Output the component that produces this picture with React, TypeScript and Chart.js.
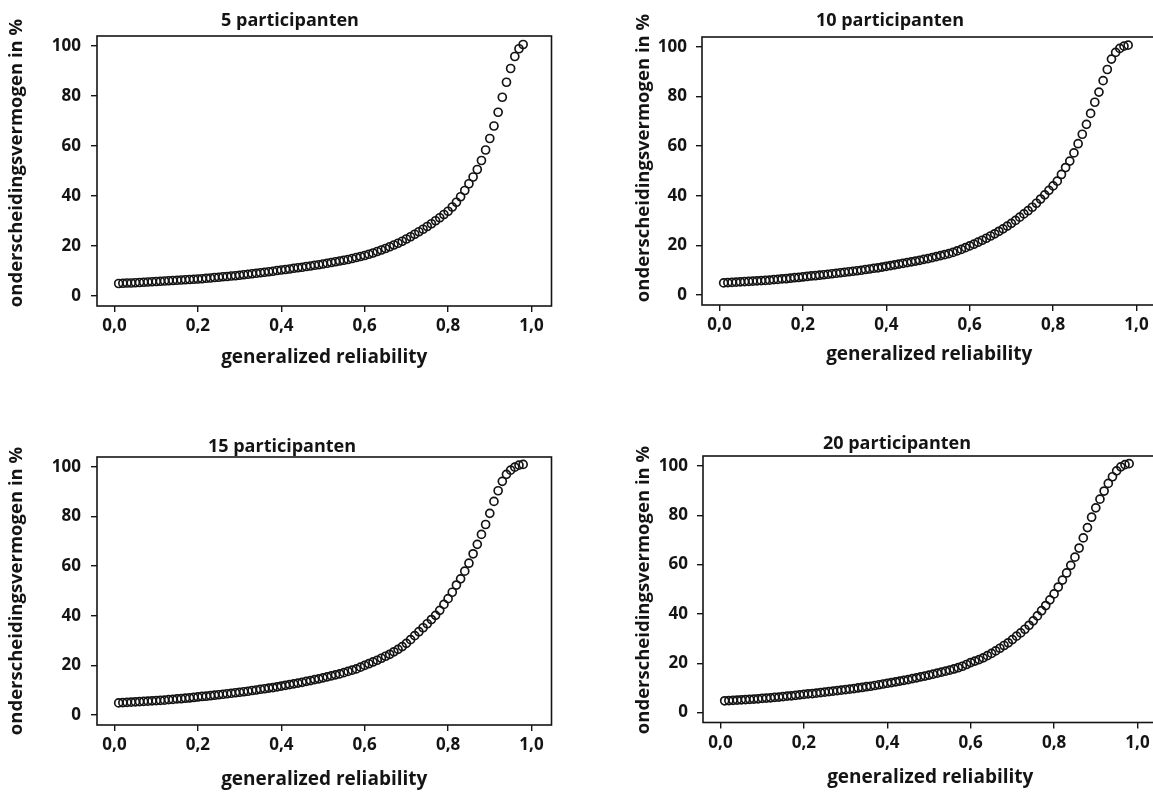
import React, { useEffect, useRef } from 'react';
import { Chart, registerables } from 'chart.js';

Chart.register(...registerables);

// ---------- data ----------
const reliability = [
  0.01, 0.02, 0.03, 0.04, 0.05, 0.06, 0.07, 0.08, 0.09, 0.1,
  0.11, 0.12, 0.13, 0.14, 0.15, 0.16, 0.17, 0.18, 0.19, 0.2,
  0.21, 0.22, 0.23, 0.24, 0.25, 0.26, 0.27, 0.28, 0.29, 0.3,
  0.31, 0.32, 0.33, 0.34, 0.35, 0.36, 0.37, 0.38, 0.39, 0.4,
  0.41, 0.42, 0.43, 0.44, 0.45, 0.46, 0.47, 0.48, 0.49, 0.5,
  0.51, 0.52, 0.53, 0.54, 0.55, 0.56, 0.57, 0.58, 0.59, 0.6,
  0.61, 0.62, 0.63, 0.64, 0.65, 0.66, 0.67, 0.68, 0.69, 0.7,
  0.71, 0.72, 0.73, 0.74, 0.75, 0.76, 0.77, 0.78, 0.79, 0.8,
  0.81, 0.82, 0.83, 0.84, 0.85, 0.86, 0.87, 0.88, 0.89, 0.9,
  0.91, 0.92, 0.93, 0.94, 0.95, 0.96, 0.97, 0.98,
];

const power5 = [
  5.0, 5.1, 5.2, 5.2, 5.3, 5.4, 5.5, 5.6, 5.7, 5.8,
  5.9, 6.0, 6.1, 6.2, 6.3, 6.4, 6.5, 6.6, 6.7, 6.8,
  6.9, 7.1, 7.2, 7.4, 7.5, 7.7, 7.8, 8.0, 8.1, 8.3,
  8.5, 8.7, 8.9, 9.1, 9.3, 9.5, 9.7, 9.9, 10.2, 10.4,
  10.6, 10.8, 11.1, 11.3, 11.5, 11.8, 12.0, 12.3, 12.5, 12.8,
  13.1, 13.4, 13.7, 14.0, 14.3, 14.6, 15.0, 15.4, 15.8, 16.2,
  16.7, 17.2, 17.8, 18.4, 19.0, 19.7, 20.4, 21.1, 21.9, 22.8,
  23.7, 24.7, 25.7, 26.7, 27.8, 28.9, 30.1, 31.3, 32.6, 33.9,
  35.6, 37.5, 39.7, 42.2, 44.9, 47.6, 50.6, 54.2, 58.4, 63.0,
  68.0, 73.5, 79.5, 85.5, 91.0, 95.8, 98.9, 100.6,
];

const power10 = [
  4.9, 5.0, 5.1, 5.2, 5.3, 5.4, 5.5, 5.6, 5.7, 5.8,
  5.9, 6.0, 6.2, 6.3, 6.5, 6.6, 6.8, 7.0, 7.1, 7.3,
  7.5, 7.7, 7.8, 8.0, 8.2, 8.4, 8.6, 8.8, 9.0, 9.2,
  9.4, 9.6, 9.8, 10.0, 10.3, 10.5, 10.8, 11.0, 11.3, 11.6,
  11.9, 12.2, 12.5, 12.8, 13.1, 13.4, 13.7, 14.0, 14.4, 14.7,
  15.1, 15.5, 15.9, 16.3, 16.7, 17.2, 17.8, 18.4, 19.1, 19.8,
  20.5, 21.3, 22.1, 22.9, 23.8, 24.7, 25.7, 26.7, 27.8, 28.9,
  30.1, 31.4, 32.7, 34.0, 35.4, 37.0, 38.7, 40.4, 42.2, 44.0,
  45.9, 48.6, 51.4, 54.0, 57.3, 61.0, 64.8, 68.8, 73.2, 77.7,
  81.8, 86.4, 90.9, 95.1, 97.8, 99.4, 100.3, 100.7,
];

const power15 = [
  4.9, 5.0, 5.1, 5.2, 5.3, 5.4, 5.5, 5.6, 5.7, 5.8,
  5.9, 6.0, 6.2, 6.3, 6.5, 6.6, 6.8, 6.9, 7.1, 7.3,
  7.5, 7.6, 7.8, 8.0, 8.2, 8.4, 8.6, 8.8, 9.0, 9.2,
  9.4, 9.6, 9.9, 10.1, 10.4, 10.6, 10.9, 11.1, 11.4, 11.7,
  12.0, 12.3, 12.6, 12.9, 13.2, 13.6, 13.9, 14.3, 14.6, 15.0,
  15.4, 15.8, 16.2, 16.6, 17.1, 17.6, 18.1, 18.6, 19.3, 20.0,
  20.7, 21.4, 22.1, 22.9, 23.7, 24.5, 25.5, 26.5, 27.6, 28.9,
  30.4, 32.0, 33.6, 35.2, 36.8, 38.5, 40.2, 42.2, 44.6, 46.9,
  49.5, 52.4, 54.9, 58.0, 61.2, 65.0, 68.8, 72.8, 76.8, 81.3,
  86.1, 90.4, 94.2, 97.0, 98.7, 99.9, 100.7, 101.0,
];

const power20 = [
  4.8, 4.9, 5.0, 5.1, 5.2, 5.3, 5.4, 5.5, 5.6, 5.8,
  5.9, 6.0, 6.2, 6.3, 6.5, 6.7, 6.8, 7.0, 7.2, 7.4,
  7.6, 7.7, 7.9, 8.1, 8.3, 8.5, 8.7, 8.9, 9.1, 9.3,
  9.5, 9.7, 10.0, 10.2, 10.5, 10.7, 11.0, 11.3, 11.6, 11.9,
  12.2, 12.5, 12.8, 13.1, 13.4, 13.8, 14.1, 14.5, 14.8, 15.2,
  15.6, 16.0, 16.4, 16.8, 17.2, 17.7, 18.2, 18.8, 19.5, 20.3,
  20.9, 21.5, 22.2, 23.1, 24.0, 25.0, 26.1, 27.2, 28.3, 29.6,
  31.0, 32.3, 33.8, 35.4, 37.2, 39.2, 41.3, 43.4, 45.7, 48.1,
  50.9, 53.7, 56.6, 59.7, 63.0, 66.7, 70.8, 75.0, 79.2, 83.0,
  86.5, 89.8, 92.9, 95.6, 98.0, 99.6, 100.5, 100.9,
];

const panelTitles = ['5 participanten', '10 participanten', '15 participanten', '20 participanten'];
const xTickValues = [0, 0.2, 0.4, 0.6, 0.8, 1.0];
const xTickLabels = ['0,0', '0,2', '0,4', '0,6', '0,8', '1,0'];
const yTickValues = [0, 20, 40, 60, 80, 100];
const yTickLabels = ['0', '20', '40', '60', '80', '100'];
const xAxisLabel = 'generalized reliability';
const yAxisLabel = 'onderscheidingsvermogen in %';

// ---------- layout (positions / sizes only) ----------
const FONT = "'Open Sans', 'DejaVu Sans', sans-serif";
const INK = '#141414';
const CW = 576;
const CH = 396;
const PLOT_LEFT = 97;
const PLOT_TOP = 36;
const PLOT_W = 454.5;
const X_SCALE_H = 66;
const TITLE_SIZE = 18;
const XLAB_SIZE = 19;
const YLAB_SIZE = 18.5;
const TICK_SIZE = 17;

const panels = [
  { series: power5, title: panelTitles[0], left: 0, top: 0, plotH: 270, titleX: 290, titleY: 21, yLabX: 16.5, yLabY: 163, xGap: 52, yPad: 10 },
  { series: power10, title: panelTitles[1], left: 605, top: 1, plotH: 268, titleX: 285, titleY: 20, yLabX: 39, yLabY: 157, xGap: 50, yPad: 9 },
  { series: power15, title: panelTitles[2], left: 0, top: 421, plotH: 268, titleX: 282, titleY: 26, yLabX: 16.5, yLabY: 170, xGap: 55, yPad: 10 },
  { series: power20, title: panelTitles[3], left: 606, top: 420, plotH: 266.5, titleX: 291, titleY: 24, yLabX: 38, yLabY: 170, xGap: 55, yPad: 9 },
];

const panelTextPlugin = {
  id: 'panelText',
  afterDraw(chart: any, _args: any, opts: any) {
    const { ctx, chartArea } = chart;
    ctx.save();
    ctx.strokeStyle = INK;
    ctx.lineWidth = 1.6;
    ctx.strokeRect(chartArea.left, chartArea.top, chartArea.right - chartArea.left, chartArea.bottom - chartArea.top);
    ctx.fillStyle = INK;
    ctx.textAlign = 'center';
    ctx.textBaseline = 'middle';
    ctx.font = `700 ${TITLE_SIZE}px ${FONT}`;
    ctx.fillText(opts.title, opts.titleX, opts.titleY);
    ctx.translate(opts.yLabX, opts.yLabY);
    ctx.rotate(-Math.PI / 2);
    ctx.font = `700 ${YLAB_SIZE}px ${FONT}`;
    ctx.fillText(opts.yLabel, 0, 0);
    ctx.restore();
  },
};

function Panel({ cfg }: { cfg: any }) {
  const ref = useRef<HTMLCanvasElement>(null);
  useEffect(() => {
    const points = reliability.map((x, i) => ({ x, y: cfg.series[i] }));
    const padBottom = CH - PLOT_TOP - cfg.plotH - X_SCALE_H;
    const xLabLH = XLAB_SIZE * 1.2;
    const chart = new Chart(ref.current as HTMLCanvasElement, {
      type: 'scatter',
      data: {
        datasets: [
          {
            data: points,
            pointStyle: 'circle',
            pointRadius: 4,
            pointBorderWidth: 1.7,
            pointBorderColor: INK,
            pointBackgroundColor: 'rgba(0,0,0,0)',
            borderColor: INK,
            backgroundColor: 'rgba(0,0,0,0)',
            showLine: false,
          } as any,
        ],
      },
      options: {
        responsive: false,
        animation: false,
        events: [],
        layout: {
          padding: { left: 0, top: PLOT_TOP, right: CW - PLOT_LEFT - PLOT_W, bottom: padBottom },
        },
        plugins: {
          legend: { display: false },
          title: { display: false },
          tooltip: { enabled: false },
          panelText: {
            title: cfg.title,
            titleX: cfg.titleX,
            titleY: cfg.titleY,
            yLabel: yAxisLabel,
            yLabX: cfg.yLabX,
            yLabY: cfg.yLabY,
          },
        } as any,
        scales: {
          x: {
            type: 'linear',
            min: -0.042,
            max: 1.048,
            afterBuildTicks: (s: any) => {
              s.ticks = xTickValues.map((v) => ({ value: v }));
            },
            afterFit: (s: any) => {
              s.height = X_SCALE_H;
            },
            ticks: {
              callback: (_v: any, i: number) => xTickLabels[i],
              font: { family: FONT, size: TICK_SIZE, weight: '700' },
              color: INK,
              padding: 4,
              maxRotation: 0,
              autoSkip: false,
            },
            grid: {
              display: true,
              drawOnChartArea: false,
              drawTicks: true,
              tickLength: 6,
              color: INK,
              lineWidth: 1.4,
            },
            border: { display: false },
            title: {
              display: true,
              text: xAxisLabel,
              color: INK,
              font: { family: FONT, size: XLAB_SIZE, weight: '700' },
              padding: { top: 0, bottom: Math.max(0, X_SCALE_H - xLabLH / 2 - cfg.xGap) },
            },
          },
          y: {
            type: 'linear',
            min: -4,
            max: 104,
            afterBuildTicks: (s: any) => {
              s.ticks = yTickValues.map((v) => ({ value: v }));
            },
            afterFit: (s: any) => {
              s.width = PLOT_LEFT;
            },
            ticks: {
              callback: (_v: any, i: number) => yTickLabels[i],
              font: { family: FONT, size: TICK_SIZE, weight: '700' },
              color: INK,
              padding: cfg.yPad,
              autoSkip: false,
            },
            grid: {
              display: true,
              drawOnChartArea: false,
              drawTicks: true,
              tickLength: 6,
              color: INK,
              lineWidth: 1.4,
            },
            border: { display: false },
            title: { display: false },
          },
        },
      } as any,
      plugins: [panelTextPlugin],
    });
    return () => chart.destroy();
  }, []);
  return (
    <div style={{ position: 'absolute', left: cfg.left, top: cfg.top, width: CW, height: CH }}>
      <canvas ref={ref} width={CW} height={CH} style={{ width: CW, height: CH, display: 'block' }} />
    </div>
  );
}

export default function App() {
  return (
    <div
      style={{
        position: 'fixed',
        left: 0,
        top: 0,
        width: 1153,
        height: 792,
        overflow: 'hidden',
        background: '#ffffff',
      }}
    >
      {panels.map((p, i) => (
        <Panel key={i} cfg={p} />
      ))}
    </div>
  );
}
